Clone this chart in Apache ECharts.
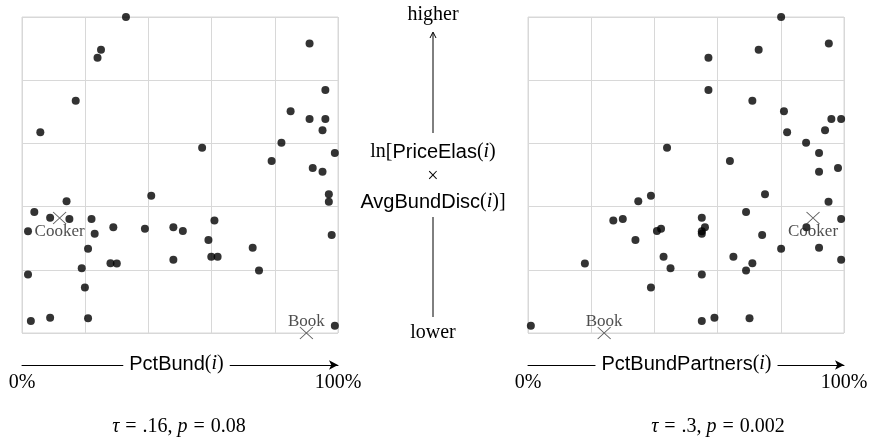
<!DOCTYPE html>
<html>
<head>
<meta charset="utf-8">
<script src="https://cdn.jsdelivr.net/npm/echarts@6/dist/echarts.min.js"></script>
<style>
  html, body { margin: 0; padding: 0; background: #fff; }
  #chart { width: 873px; height: 448px; }
</style>
</head>
<body>
<div id="chart"></div>
<script>
// ln[PriceElas(i) x AvgBundDisc(i)], rescaled to 0..100 (shared by both panels)
const elasDisc = [100.0, 91.6, 89.6, 87.1, 76.9, 73.5, 70.2, 67.7, 67.7, 64.2,
  63.5, 60.2, 58.6, 57.0, 54.4, 52.2, 51.0, 43.9, 43.4, 41.7,
  41.5, 38.3, 36.5, 36.1, 36.1, 35.6, 33.5, 33.5, 33.0, 32.3,
  32.2, 31.4, 31.0, 29.4, 27.0, 26.7, 24.1, 24.1, 23.2, 22.1,
  22.0, 20.5, 19.8, 18.5, 14.4, 4.8, 4.7, 3.8, 2.3];

// PctBund(i), in percent
const pctBund = [32.9, 91.0, 25.0, 23.9, 96.0, 17.0, 85.0, 91.0, 96.0, 95.1,
  5.8, 82.1, 57.0, 99.0, 79.0, 92.0, 95.1, 97.1, 40.9, 14.1,
  97.1, 3.9, 8.9, 15.0, 22.0, 60.9, 28.9, 47.9, 38.9, 50.9,
  1.9, 23.0, 98.0, 59.0, 73.0, 20.9, 59.9, 61.9, 47.9, 28.0,
  30.0, 18.9, 75.0, 1.9, 19.9, 8.9, 20.9, 2.8, 99.0];

// PctBundPartners(i), in percent
const pctBundPartners = [80.1, 95.2, 73.0, 57.1, 57.1, 71.0, 81.0, 96.0, 99.1, 94.0,
  82.0, 88.0, 44.0, 92.1, 63.9, 98.1, 92.1, 75.0, 38.9, 34.9,
  95.1, 69.0, 55.0, 30.0, 99.1, 27.0, 56.0, 88.1, 42.1, 40.8,
  55.0, 55.0, 74.1, 34.0, 92.1, 80.1, 42.9, 65.0, 99.1, 71.0,
  18.0, 45.1, 69.0, 55.0, 38.9, 59.0, 70.1, 55.0, 0.9];

// Highlighted categories
const highlightNames = ['Cooker', 'Book'];
const highlightElas = [36.4, 0.0];
const highlightBund = [11.9, 90.0];
const highlightPartners = [90.2, 24.1];
const highlightLabelPos = ['bottom', 'top'];
const highlightLabelGap = [-3, -5];

const xTitles = ['{s|PctBund}{r|(}{i|i}{r|)}', '{s|PctBundPartners}{r|(}{i|i}{r|)}'];
const tickLabels = { 0: '0%', 100: '100%' };
const stats = ['{i|τ}{q|=}{r|.16, }{i|p}{q|=}{r|0.08}', '{i|τ}{q|=}{r|.3, }{i|p}{q|=}{r|0.002}'];

const SERIF = '"Liberation Serif", "DejaVu Serif", serif';
const SANS = '"Liberation Sans", "DejaVu Sans", sans-serif';
const GRID_COLOR = '#d8d8d8';
const INK = '#000';

function richStyles(size) {
  return {
    s: { fontFamily: SANS, fontSize: size, color: INK },
    r: { fontFamily: SERIF, fontSize: size, color: INK },
    i: { fontFamily: SERIF, fontSize: size, fontStyle: 'italic', color: INK },
    q: { fontFamily: SERIF, fontSize: size, color: INK, padding: [0, 6] }
  };
}

const chart = echarts.init(document.getElementById('chart'), null, { renderer: 'canvas' });

const panelLeft = [22, 528];
const PANEL_TOP = 17, PANEL_SIZE = 316, AXIS_DROP = 32;
const grids = panelLeft.map(l => ({
  left: l, top: PANEL_TOP, width: PANEL_SIZE, height: PANEL_SIZE,
  show: true, borderColor: GRID_COLOR, borderWidth: 1, backgroundColor: 'transparent'
}));

// x axes are drawn a little below each panel, as arrows from 0% to 100%
const xAxes = [0, 1].map(k => ({
  type: 'value', gridIndex: k, min: 0, max: 100, interval: 20,
  offset: AXIS_DROP,
  axisLine: { show: true, onZero: false, symbol: ['none', 'arrow'], symbolSize: [7, 9],
    lineStyle: { color: INK, width: 1 } },
  axisTick: { show: false },
  axisLabel: {
    show: true, margin: 8, fontFamily: SERIF, fontSize: 20, color: INK,
    formatter: v => tickLabels[v] || ''
  },
  splitLine: { show: true, lineStyle: { color: GRID_COLOR, width: 1 } }
}));

const yAxes = [0, 1].map(k => ({
  type: 'value', gridIndex: k, min: 0, max: 100, interval: 20,
  axisLine: { show: false }, axisTick: { show: false }, axisLabel: { show: false },
  splitLine: { show: true, lineStyle: { color: GRID_COLOR, width: 1 } }
}));

function dots(xs, k) {
  return {
    type: 'scatter', xAxisIndex: k, yAxisIndex: k, clip: false,
    symbol: 'circle', symbolSize: 8,
    itemStyle: { color: INK },
    data: xs.map((x, i) => [x, elasDisc[i]]),
    z: 3
  };
}

function crosses(xs, k) {
  return {
    type: 'scatter', xAxisIndex: k, yAxisIndex: k, clip: false,
    symbol: 'path://M0,0L10,10M10,0L0,10', symbolSize: [13, 12],
    itemStyle: { color: 'none', borderColor: '#333', borderWidth: 1 },
    data: highlightNames.map((n, i) => ({
      name: n, value: [xs[i], highlightElas[i]],
      label: { position: highlightLabelPos[i], distance: highlightLabelGap[i] }
    })),
    label: {
      show: true, formatter: '{b}', fontFamily: SERIF, fontSize: 17, color: '#222'
    },
    z: 4
  };
}

const axisY = PANEL_TOP + PANEL_SIZE + AXIS_DROP + 1;
const midX = 433;
const graphic = [
  { type: 'text', x: midX, y: 15, style: { text: 'higher', fontFamily: SERIF, fontSize: 20,
      fill: INK, align: 'center', verticalAlign: 'middle' } },
  { type: 'line', shape: { x1: midX, y1: 133, x2: midX, y2: 33 }, style: { stroke: INK, lineWidth: 1 } },
  { type: 'polyline', shape: { points: [[midX - 3, 38], [midX, 32], [midX + 3, 38]] },
    style: { stroke: INK, lineWidth: 1, fill: null } },
  { type: 'text', x: midX, y: 152, style: {
      text: '{r|ln[}{s|PriceElas}{r|(}{i|i}{r|)}', rich: richStyles(20),
      align: 'center', verticalAlign: 'middle' } },
  { type: 'text', x: midX, y: 177, style: { text: '×', fontFamily: SERIF, fontSize: 20,
      fill: INK, align: 'center', verticalAlign: 'middle' } },
  { type: 'text', x: midX, y: 202, style: {
      text: '{s|AvgBundDisc}{r|(}{i|i}{r|)]}', rich: richStyles(20),
      align: 'center', verticalAlign: 'middle' } },
  { type: 'line', shape: { x1: midX, y1: 217, x2: midX, y2: 317 }, style: { stroke: INK, lineWidth: 1 } },
  { type: 'text', x: midX, y: 333, style: { text: 'lower', fontFamily: SERIF, fontSize: 20,
      fill: INK, align: 'center', verticalAlign: 'middle' } },
  // axis titles sit on the arrows, with a white gap around them
  { type: 'text', x: 176.5, y: axisY - 2, z: 100, style: { text: xTitles[0], rich: richStyles(20),
      align: 'center', verticalAlign: 'middle', backgroundColor: '#fff', padding: [0, 6] } },
  { type: 'text', x: 686.5, y: axisY - 2, z: 100, style: { text: xTitles[1], rich: richStyles(20),
      align: 'center', verticalAlign: 'middle', backgroundColor: '#fff', padding: [0, 6] } },
  { type: 'text', x: 179, y: 427, style: { text: stats[0], rich: richStyles(20),
      align: 'center', verticalAlign: 'middle' } },
  { type: 'text', x: 718, y: 427, style: { text: stats[1], rich: richStyles(20),
      align: 'center', verticalAlign: 'middle' } }
];

chart.setOption({
  animation: false,
  backgroundColor: '#fff',
  grid: grids,
  xAxis: xAxes,
  yAxis: yAxes,
  series: [
    dots(pctBund, 0),
    dots(pctBundPartners, 1),
    crosses(highlightBund, 0),
    crosses(highlightPartners, 1)
  ],
  graphic: graphic
});
</script>
</body>
</html>
